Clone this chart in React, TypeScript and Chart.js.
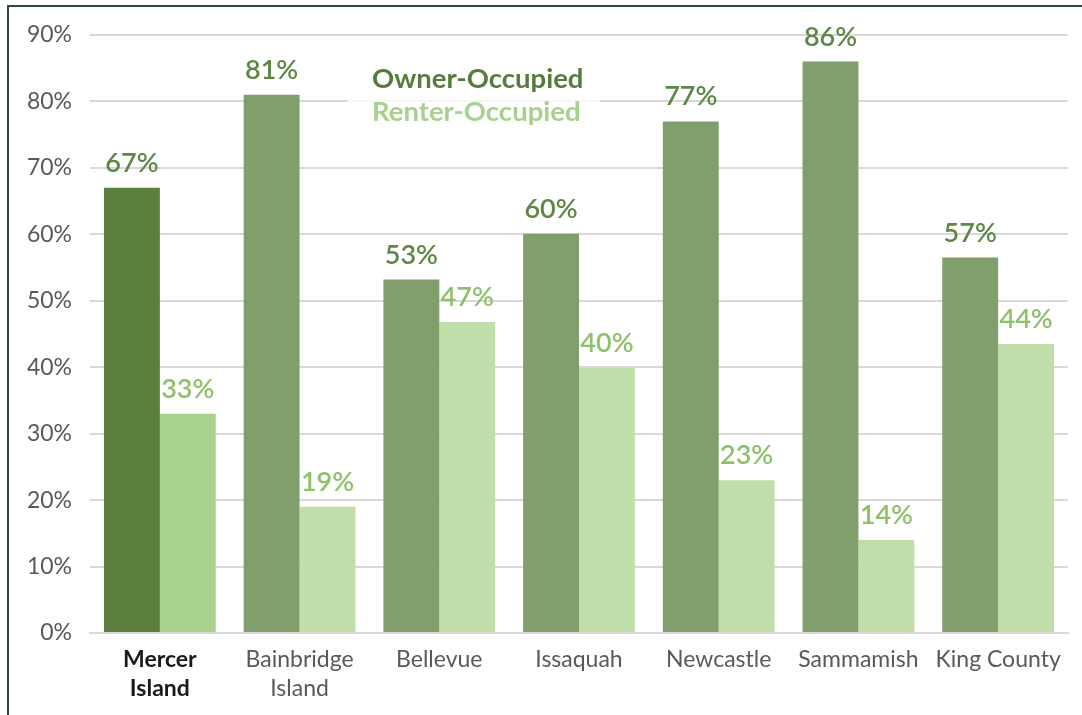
import React, { useEffect, useRef } from "react";
import { Chart, registerables } from "chart.js";

Chart.register(...registerables);

const categories: string[][] = [
  ["Mercer", "Island"],
  ["Bainbridge", "Island"],
  ["Bellevue"],
  ["Issaquah"],
  ["Newcastle"],
  ["Sammamish"],
  ["King County"],
];
const ownerValues = [67, 81, 53.2, 60.1, 77, 86, 56.5];
const renterValues = [33, 19, 46.8, 39.9, 23, 14, 43.5];
const ownerLabels = ["67%", "81%", "53%", "60%", "77%", "86%", "57%"];
const renterLabels = ["33%", "19%", "47%", "40%", "23%", "14%", "44%"];
const seriesNames = ["Owner-Occupied", "Renter-Occupied"];

const OWNER = "#809f6c";
const OWNER_HI = "#5a7f3e";
const RENTER = "#c0dea9";
const RENTER_HI = "#a9d18e";
const OWNER_TXT = "#5e8746";
const RENTER_TXT = "#8fc06c";
const FONT = "Lato, 'Open Sans', sans-serif";

const decorPlugin = {
  id: "decor",
  beforeDatasetsDraw(chart: any) {
    const { ctx, chartArea } = chart;
    const lx = chartArea.left + 270;
    ctx.save();
    ctx.fillStyle = "rgba(255,255,255,0.75)";
    ctx.fillRect(lx - 12, chartArea.top + 26, 252, 68);
    ctx.restore();
  },
  afterDatasetsDraw(chart: any) {
    const { ctx, chartArea } = chart;
    ctx.save();
    ctx.textAlign = "center";
    ctx.textBaseline = "alphabetic";
    ctx.font = `600 27px ${FONT}`;
    const m0 = chart.getDatasetMeta(0);
    const m1 = chart.getDatasetMeta(1);
    m0.data.forEach((bar: any, i: number) => {
      ctx.fillStyle = OWNER_TXT;
      ctx.fillText(ownerLabels[i], bar.x, bar.y - 16);
    });
    m1.data.forEach((bar: any, i: number) => {
      ctx.fillStyle = RENTER_TXT;
      ctx.fillText(renterLabels[i], bar.x, bar.y - 16);
    });
    const lx = chartArea.left + 282;
    ctx.textAlign = "left";
    ctx.textBaseline = "middle";
    ctx.font = `bold 27.5px ${FONT}`;
    ctx.fillStyle = "#567c3d";
    ctx.fillText(seriesNames[0], lx, chartArea.top + 44);
    ctx.fillStyle = RENTER_HI;
    ctx.fillText(seriesNames[1], lx, chartArea.top + 77);
    ctx.restore();
  },
  afterDraw(chart: any) {
    const { ctx, width, height } = chart;
    ctx.save();
    ctx.fillStyle = "#2f4a37";
    ctx.fillRect(7, 5, width - 7, 2);
    ctx.fillRect(7, 5, 2, height - 5);
    ctx.restore();
  },
};

export default function App() {
  const ref = useRef<HTMLCanvasElement | null>(null);
  useEffect(() => {
    document.body.style.margin = "0";
    const canvas = ref.current!;
    const chart = new Chart(canvas, {
      type: "bar",
      data: {
        labels: categories,
        datasets: [
          {
            label: seriesNames[0],
            data: ownerValues,
            backgroundColor: ownerValues.map((_, i) => (i === 0 ? OWNER_HI : OWNER)),
            categoryPercentage: 0.8,
            barPercentage: 1.0,
          },
          {
            label: seriesNames[1],
            data: renterValues,
            backgroundColor: renterValues.map((_, i) => (i === 0 ? RENTER_HI : RENTER)),
            categoryPercentage: 0.8,
            barPercentage: 1.0,
          },
        ],
      },
      options: {
        animation: false,
        responsive: false,
        maintainAspectRatio: false,
        layout: { padding: { top: 35, right: 14, left: 0, bottom: 0 } },
        plugins: {
          legend: { display: false },
          tooltip: { enabled: false },
          title: { display: false },
        },
        scales: {
          x: {
            grid: { display: false, drawTicks: false },
            border: { display: true, color: "#d9d9d9", width: 2 },
            ticks: {
              padding: 13,
              maxRotation: 0,
              autoSkip: false,
              color: (c: any) => (c.index === 0 ? "#1a1a1a" : "#595959"),
              font: (c: any) => ({
                family: FONT,
                size: 23,
                weight: c.index === 0 ? "bold" : "normal",
                lineHeight: 1.22,
              }),
            },
            afterFit(scale: any) {
              scale.height = 82;
            },
          },
          y: {
            min: 0,
            max: 90,
            ticks: {
              stepSize: 10,
              padding: 18,
              color: "#595959",
              font: { family: FONT, size: 23 },
              callback: (v: any) => `${v}%`,
            },
            grid: { color: "#d9d9d9", lineWidth: 2, drawTicks: false },
            border: { display: false },
            afterFit(scale: any) {
              scale.width = 90;
            },
          },
        },
      },
      plugins: [decorPlugin],
    });
    return () => chart.destroy();
  }, []);
  return <canvas ref={ref} width={1082} height={715} style={{ display: "block" }} />;
}
